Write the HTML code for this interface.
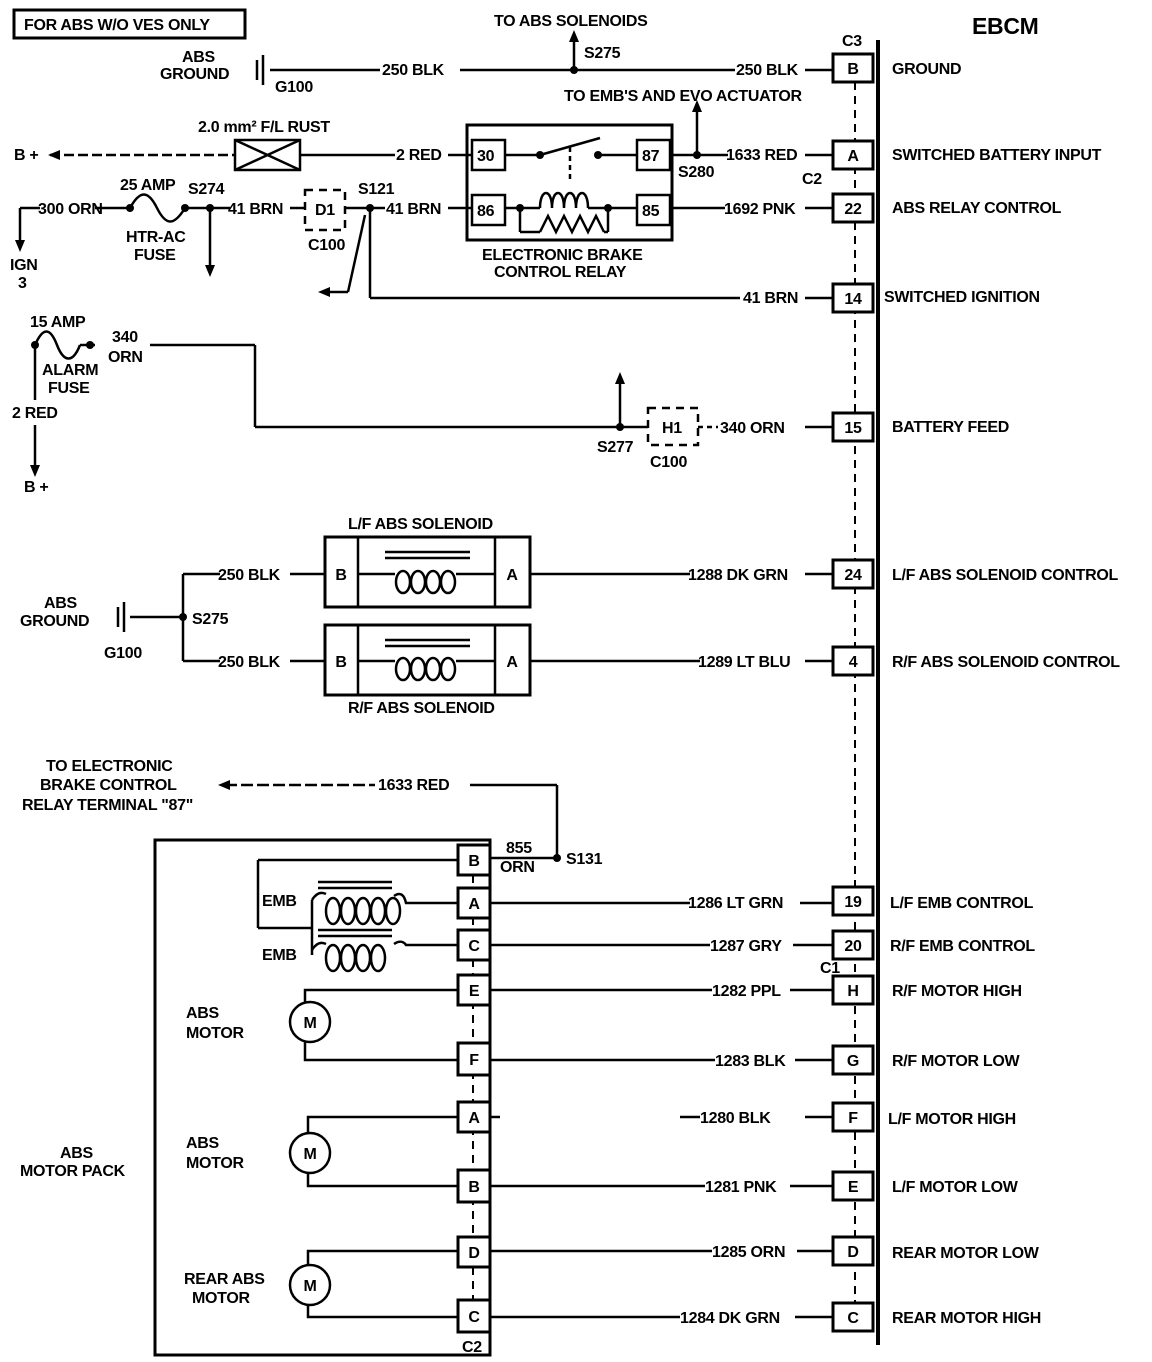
<!DOCTYPE html>
<html><head><style>
html,body{margin:0;padding:0;background:#fff}
svg{display:block}
text{font-family:"Liberation Sans",sans-serif;font-weight:bold;font-size:16px;fill:#000;letter-spacing:-0.3px}
</style></head><body>
<svg width="1152" height="1362" viewBox="0 0 1152 1362" xmlns="http://www.w3.org/2000/svg">
<g stroke="#000" stroke-width="2.5" fill="none">
<rect x="14" y="10" width="231" height="28" stroke-width="3"/>
<line x1="878" y1="40" x2="878" y2="1345" stroke-width="4"/>
<line x1="855" y1="82" x2="855" y2="1303" stroke-dasharray="8,6" stroke-width="2"/>
<g fill="#fff" stroke-width="3">
<rect x="833" y="54" width="40" height="28"/>
<rect x="833" y="141" width="40" height="28"/>
<rect x="833" y="194" width="40" height="28"/>
<rect x="833" y="284" width="40" height="28"/>
<rect x="833" y="413" width="40" height="28"/>
<rect x="833" y="560" width="40" height="28"/>
<rect x="833" y="647" width="40" height="28"/>
<rect x="833" y="887" width="40" height="28"/>
<rect x="833" y="931" width="40" height="28"/>
<rect x="833" y="976" width="40" height="28"/>
<rect x="833" y="1046" width="40" height="28"/>
<rect x="833" y="1103" width="40" height="28"/>
<rect x="833" y="1172" width="40" height="28"/>
<rect x="833" y="1237" width="40" height="28"/>
<rect x="833" y="1303" width="40" height="28"/>
</g>
<line x1="257" y1="60" x2="257" y2="80"/><line x1="263" y1="55" x2="263" y2="85"/>
<line x1="270" y1="70" x2="380" y2="70"/><line x1="460" y1="70" x2="735" y2="70"/><line x1="805" y1="70" x2="833" y2="70"/>
<line x1="574" y1="70" x2="574" y2="38"/>
<line x1="50" y1="155" x2="235" y2="155" stroke-dasharray="10,4"/>
<rect x="235" y="140" width="65" height="30"/><line x1="235" y1="140" x2="300" y2="170"/><line x1="235" y1="170" x2="300" y2="140"/>
<line x1="300" y1="155" x2="395" y2="155"/><line x1="448" y1="155" x2="472" y2="155"/>
<rect x="467" y="125" width="205" height="115" stroke-width="3"/>
<rect x="472" y="140" width="33" height="30"/><rect x="472" y="195" width="33" height="30"/>
<rect x="637" y="140" width="33" height="30"/><rect x="637" y="195" width="33" height="30"/>
<line x1="505" y1="155" x2="540" y2="155"/><line x1="540" y1="155" x2="600" y2="138"/><line x1="598" y1="155" x2="637" y2="155"/>
<line x1="570" y1="147" x2="570" y2="180" stroke-dasharray="5,4"/>
<line x1="505" y1="208" x2="520" y2="208"/><line x1="520" y1="208" x2="520" y2="232"/><line x1="520" y1="232" x2="540" y2="232"/>
<path d="M540,232 l8,-16 l8,16 l8,-16 l8,16 l8,-16 l8,16 l8,-16 l8,16"/>
<line x1="604" y1="232" x2="608" y2="232"/><line x1="608" y1="232" x2="608" y2="208"/>
<line x1="520" y1="208" x2="540" y2="208"/>
<path d="M540,208 c0,-20 12,-20 12,0 c0,-20 12,-20 12,0 c0,-20 12,-20 12,0 c0,-20 12,-20 12,0"/>
<line x1="588" y1="208" x2="637" y2="208"/>
<line x1="672" y1="155" x2="728" y2="155"/><line x1="805" y1="155" x2="833" y2="155"/>
<line x1="697" y1="155" x2="697" y2="108"/>
<line x1="20" y1="208" x2="40" y2="208"/><line x1="20" y1="208" x2="20" y2="245"/>
<line x1="95" y1="208" x2="130" y2="208"/>
<path d="M130,208 c10,-18 18,-18 27,0 s17,18 28,0"/>
<line x1="185" y1="208" x2="230" y2="208"/><line x1="210" y1="208" x2="210" y2="270"/>
<line x1="290" y1="208" x2="305" y2="208"/>
<rect x="305" y="190" width="40" height="40" stroke-dasharray="8,6"/>
<line x1="345" y1="208" x2="385" y2="208"/><line x1="448" y1="208" x2="472" y2="208"/>
<line x1="672" y1="208" x2="725" y2="208"/><line x1="805" y1="208" x2="833" y2="208"/>
<line x1="370" y1="208" x2="370" y2="298"/><line x1="370" y1="298" x2="740" y2="298"/><line x1="805" y1="298" x2="833" y2="298"/>
<line x1="365" y1="215" x2="348" y2="292"/><line x1="348" y1="292" x2="322" y2="292"/>
<path d="M35,345 c8,-18 15,-18 22,0 s16,18 23,0"/><line x1="80" y1="345" x2="95" y2="345"/>
<line x1="150" y1="345" x2="255" y2="345"/><line x1="255" y1="345" x2="255" y2="427"/><line x1="255" y1="427" x2="648" y2="427"/>
<line x1="35" y1="345" x2="35" y2="400"/><line x1="35" y1="425" x2="35" y2="470"/>
<line x1="620" y1="427" x2="620" y2="380"/>
<rect x="648" y="408" width="50" height="37" stroke-dasharray="8,6"/>
<line x1="698" y1="427" x2="718" y2="427" stroke-dasharray="5,4"/><line x1="805" y1="427" x2="833" y2="427"/>
<rect x="325" y="537" width="205" height="70" stroke-width="3"/><line x1="358" y1="537" x2="358" y2="607"/><line x1="495" y1="537" x2="495" y2="607"/>
<rect x="325" y="625" width="205" height="70" stroke-width="3"/><line x1="358" y1="625" x2="358" y2="695"/><line x1="495" y1="625" x2="495" y2="695"/>
<line x1="358" y1="574" x2="395" y2="574"/><line x1="456" y1="574" x2="495" y2="574"/>
<line x1="358" y1="661" x2="395" y2="661"/><line x1="456" y1="661" x2="495" y2="661"/>
<line x1="385" y1="552" x2="470" y2="552"/><line x1="385" y1="558" x2="470" y2="558"/>
<line x1="385" y1="640" x2="470" y2="640"/><line x1="385" y1="646" x2="470" y2="646"/>
<ellipse cx="403" cy="582" rx="7" ry="11"/><ellipse cx="418" cy="582" rx="7" ry="11"/><ellipse cx="433" cy="582" rx="7" ry="11"/><ellipse cx="448" cy="582" rx="7" ry="11"/>
<ellipse cx="403" cy="669" rx="7" ry="11"/><ellipse cx="418" cy="669" rx="7" ry="11"/><ellipse cx="433" cy="669" rx="7" ry="11"/><ellipse cx="448" cy="669" rx="7" ry="11"/>
<line x1="530" y1="574" x2="690" y2="574"/><line x1="805" y1="574" x2="833" y2="574"/>
<line x1="530" y1="661" x2="700" y2="661"/><line x1="805" y1="661" x2="833" y2="661"/>
<line x1="183" y1="574" x2="220" y2="574"/><line x1="183" y1="574" x2="183" y2="661"/><line x1="183" y1="661" x2="220" y2="661"/>
<line x1="290" y1="574" x2="325" y2="574"/><line x1="290" y1="661" x2="325" y2="661"/>
<line x1="118" y1="607" x2="118" y2="627"/><line x1="124" y1="602" x2="124" y2="632"/><line x1="130" y1="617" x2="183" y2="617"/>
<line x1="225" y1="785" x2="375" y2="785" stroke-dasharray="12,4"/><line x1="470" y1="785" x2="557" y2="785"/><line x1="557" y1="785" x2="557" y2="858"/>
<line x1="490" y1="858" x2="557" y2="858"/>
<rect x="155" y="840" width="335" height="515" stroke-width="3"/>
<line x1="473" y1="875" x2="473" y2="1300" stroke-dasharray="8,6" stroke-width="2"/>
<g fill="#fff" stroke-width="3">
<rect x="458" y="845" width="32" height="30"/><rect x="458" y="888" width="32" height="30"/><rect x="458" y="930" width="32" height="30"/>
<rect x="458" y="975" width="32" height="30"/><rect x="458" y="1043" width="32" height="32"/><rect x="458" y="1102" width="32" height="30"/>
<rect x="458" y="1170" width="32" height="32"/><rect x="458" y="1237" width="32" height="30"/><rect x="458" y="1300" width="32" height="32"/>
</g>
<line x1="258" y1="860" x2="458" y2="860"/><line x1="258" y1="860" x2="258" y2="928"/><line x1="258" y1="928" x2="312" y2="928"/>
<line x1="312" y1="900" x2="312" y2="955"/>
<line x1="318" y1="882" x2="392" y2="882"/><line x1="318" y1="888" x2="392" y2="888"/>
<line x1="318" y1="930" x2="392" y2="930"/><line x1="318" y1="936" x2="392" y2="936"/>
<path d="M312,900 c5,-8 10,-8 14,-6 M394,896 c6,-4 10,-2 12,7 L458,903"/>
<ellipse cx="333" cy="911" rx="7" ry="13"/><ellipse cx="348" cy="911" rx="7" ry="13"/><ellipse cx="363" cy="911" rx="7" ry="13"/><ellipse cx="378" cy="911" rx="7" ry="13"/><ellipse cx="393" cy="911" rx="7" ry="13"/>
<path d="M312,950 c5,-8 10,-8 14,-6 M394,944 c6,-4 10,-2 12,1 L458,945"/>
<ellipse cx="333" cy="958" rx="7" ry="13"/><ellipse cx="348" cy="958" rx="7" ry="13"/><ellipse cx="363" cy="958" rx="7" ry="13"/><ellipse cx="378" cy="958" rx="7" ry="13"/>
<circle cx="310" cy="1022" r="20"/><circle cx="310" cy="1153" r="20"/><circle cx="310" cy="1285" r="20"/>
<path d="M458,990 L305,990 L305,1002 M305,1042 L305,1060 L458,1060"/>
<path d="M458,1117 L308,1117 L308,1133 M308,1173 L308,1186 L458,1186"/>
<path d="M458,1251 L308,1251 L308,1265 M308,1305 L308,1317 L458,1317"/>
<line x1="490" y1="903" x2="690" y2="903"/><line x1="800" y1="903" x2="833" y2="903"/>
<line x1="490" y1="945" x2="710" y2="945"/><line x1="793" y1="945" x2="833" y2="945"/>
<line x1="490" y1="990" x2="712" y2="990"/><line x1="790" y1="990" x2="833" y2="990"/>
<line x1="490" y1="1060" x2="715" y2="1060"/><line x1="795" y1="1060" x2="833" y2="1060"/>
<line x1="490" y1="1117" x2="500" y2="1117"/><line x1="680" y1="1117" x2="700" y2="1117"/><line x1="805" y1="1117" x2="833" y2="1117"/>
<line x1="490" y1="1186" x2="705" y2="1186"/><line x1="790" y1="1186" x2="833" y2="1186"/>
<line x1="490" y1="1251" x2="712" y2="1251"/><line x1="797" y1="1251" x2="833" y2="1251"/>
<line x1="490" y1="1317" x2="680" y2="1317"/><line x1="795" y1="1317" x2="833" y2="1317"/>
</g>
<g fill="#000">
<circle cx="574" cy="70" r="4"/><circle cx="697" cy="155" r="4"/><circle cx="210" cy="208" r="4"/><circle cx="370" cy="208" r="4"/>
<circle cx="540" cy="155" r="4"/><circle cx="598" cy="155" r="4"/><circle cx="520" cy="208" r="4"/><circle cx="608" cy="208" r="4"/>
<circle cx="130" cy="208" r="4"/><circle cx="185" cy="208" r="4"/><circle cx="35" cy="345" r="4"/><circle cx="90" cy="345" r="4"/>
<circle cx="620" cy="427" r="4"/><circle cx="183" cy="617" r="4"/><circle cx="557" cy="858" r="4"/>
<polygon points="574,30 569,42 579,42"/><polygon points="697,100 692,112 702,112"/><polygon points="48,155 60,150 60,160"/>
<polygon points="20,252 15,240 25,240"/><polygon points="210,277 205,265 215,265"/><polygon points="318,292 330,287 330,297"/>
<polygon points="620,372 615,384 625,384"/><polygon points="35,477 30,465 40,465"/><polygon points="218,785 230,780 230,790"/>
</g>
<text x="24" y="30">FOR ABS W/O VES ONLY</text>
<text x="972" y="34" style="font-size:23px">EBCM</text>
<text x="494" y="26">TO ABS SOLENOIDS</text>
<text x="584" y="58">S275</text>
<text x="182" y="62">ABS</text><text x="160" y="79">GROUND</text><text x="275" y="92">G100</text>
<text x="382" y="75">250 BLK</text><text x="736" y="75">250 BLK</text>
<text x="842" y="46">C3</text>
<text x="564" y="101">TO EMB'S AND EVO ACTUATOR</text>
<text x="198" y="132">2.0 mm² F/L RUST</text>
<text x="14" y="160">B +</text>
<text x="396" y="160">2 RED</text>
<text x="477" y="161">30</text><text x="642" y="161">87</text><text x="477" y="216">86</text><text x="642" y="216">85</text>
<text x="726" y="160">1633 RED</text><text x="678" y="177">S280</text><text x="802" y="184">C2</text>
<text x="120" y="190">25 AMP</text><text x="188" y="194">S274</text>
<text x="38" y="214">300 ORN</text><text x="228" y="214">41 BRN</text>
<text x="315" y="215">D1</text><text x="358" y="194">S121</text>
<text x="386" y="214">41 BRN</text>
<text x="126" y="242">HTR-AC</text><text x="134" y="260">FUSE</text><text x="308" y="250">C100</text>
<text x="10" y="270">IGN</text><text x="18" y="288">3</text>
<text x="482" y="260">ELECTRONIC BRAKE</text><text x="494" y="277">CONTROL RELAY</text>
<text x="724" y="214">1692 PNK</text>
<text x="743" y="303">41 BRN</text>
<text x="30" y="327">15 AMP</text><text x="112" y="342">340</text><text x="108" y="362">ORN</text>
<text x="42" y="375">ALARM</text><text x="48" y="393">FUSE</text>
<text x="12" y="418">2 RED</text><text x="24" y="492">B +</text>
<text x="597" y="452">S277</text><text x="662" y="433">H1</text><text x="650" y="467">C100</text>
<text x="720" y="433">340 ORN</text>
<text x="892" y="74">GROUND</text>
<text x="892" y="160">SWITCHED BATTERY INPUT</text>
<text x="892" y="213">ABS RELAY CONTROL</text>
<text x="884" y="302">SWITCHED IGNITION</text>
<text x="892" y="432">BATTERY FEED</text>
<text x="892" y="580">L/F ABS SOLENOID CONTROL</text>
<text x="892" y="667">R/F ABS SOLENOID CONTROL</text>
<text x="890" y="908">L/F EMB CONTROL</text>
<text x="890" y="951">R/F EMB CONTROL</text>
<text x="892" y="996">R/F MOTOR HIGH</text>
<text x="892" y="1066">R/F MOTOR LOW</text>
<text x="888" y="1124">L/F MOTOR HIGH</text>
<text x="892" y="1192">L/F MOTOR LOW</text>
<text x="892" y="1258">REAR MOTOR LOW</text>
<text x="892" y="1323">REAR MOTOR HIGH</text>
<g text-anchor="middle">
<text x="853" y="74">B</text><text x="853" y="161">A</text><text x="853" y="214">22</text><text x="853" y="304">14</text>
<text x="853" y="433">15</text><text x="853" y="580">24</text><text x="853" y="667">4</text><text x="853" y="907">19</text>
<text x="853" y="951">20</text><text x="853" y="996">H</text><text x="853" y="1066">G</text><text x="853" y="1123">F</text>
<text x="853" y="1192">E</text><text x="853" y="1257">D</text><text x="853" y="1323">C</text>
<text x="341" y="580">B</text><text x="512" y="580">A</text><text x="341" y="667">B</text><text x="512" y="667">A</text>
<text x="474" y="866">B</text><text x="474" y="909">A</text><text x="474" y="951">C</text><text x="474" y="996">E</text>
<text x="474" y="1065">F</text><text x="474" y="1123">A</text><text x="474" y="1192">B</text><text x="474" y="1258">D</text><text x="474" y="1322">C</text>
<text x="310" y="1028">M</text><text x="310" y="1159">M</text><text x="310" y="1291">M</text>
</g>
<text x="820" y="973">C1</text>
<text x="348" y="529">L/F ABS SOLENOID</text>
<text x="348" y="713">R/F ABS SOLENOID</text>
<text x="218" y="580">250 BLK</text><text x="218" y="667">250 BLK</text>
<text x="688" y="580">1288 DK GRN</text><text x="698" y="667">1289 LT BLU</text>
<text x="44" y="608">ABS</text><text x="20" y="626">GROUND</text><text x="104" y="658">G100</text><text x="192" y="624">S275</text>
<text x="46" y="771">TO ELECTRONIC</text><text x="40" y="790">BRAKE CONTROL</text><text x="22" y="810">RELAY TERMINAL "87"</text>
<text x="378" y="790">1633 RED</text>
<text x="506" y="853">855</text><text x="500" y="872">ORN</text><text x="566" y="864">S131</text>
<text x="262" y="906">EMB</text><text x="262" y="960">EMB</text>
<text x="186" y="1018">ABS</text><text x="186" y="1038">MOTOR</text>
<text x="186" y="1148">ABS</text><text x="186" y="1168">MOTOR</text>
<text x="184" y="1284">REAR ABS</text><text x="192" y="1303">MOTOR</text>
<text x="60" y="1158">ABS</text><text x="20" y="1176">MOTOR PACK</text>
<text x="688" y="908">1286 LT GRN</text><text x="710" y="951">1287 GRY</text><text x="712" y="996">1282 PPL</text>
<text x="715" y="1066">1283 BLK</text><text x="700" y="1123">1280 BLK</text><text x="705" y="1192">1281 PNK</text>
<text x="712" y="1257">1285 ORN</text><text x="680" y="1323">1284 DK GRN</text>
<text x="462" y="1352">C2</text>
</svg>
</body></html>
